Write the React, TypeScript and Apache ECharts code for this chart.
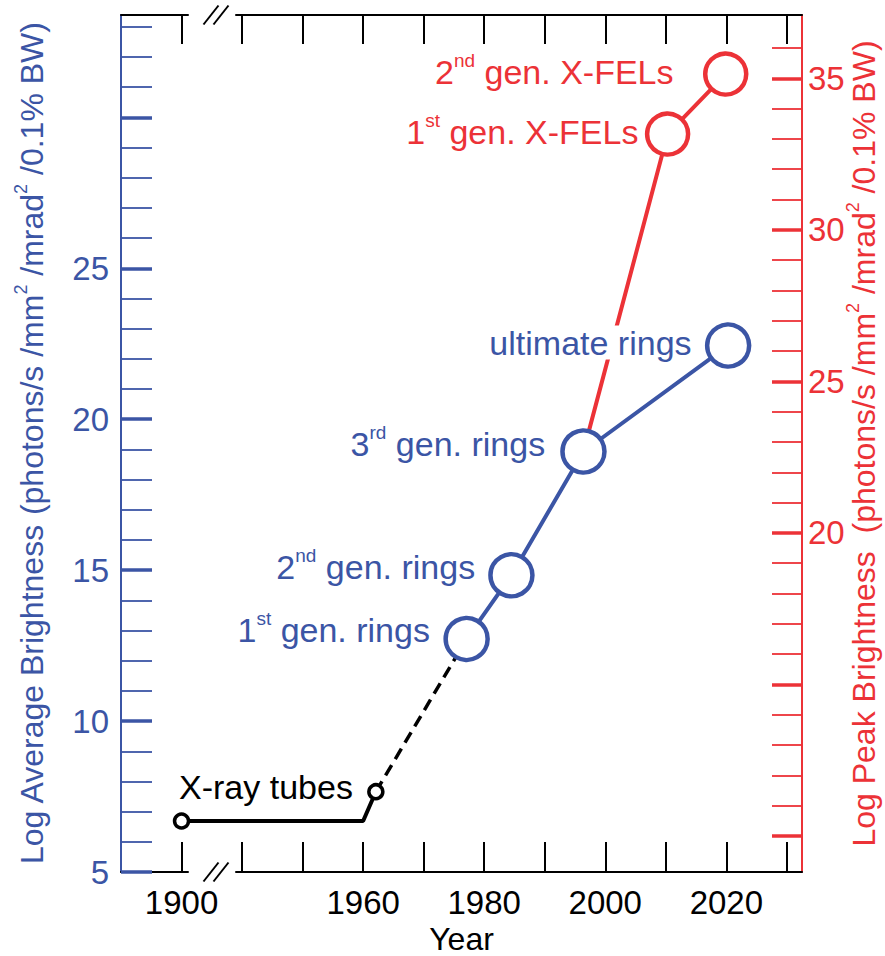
import React, { useEffect, useRef } from 'react';
import * as echarts from 'echarts';

// ---------- data ----------
const ringYears = [1977.1, 1984.5, 1996.4, 2020.3];
const ringAvgBrightness = [12.72, 14.83, 18.93, 22.44];
const ringLabels = ['1st gen. rings', '2nd gen. rings', '3rd gen. rings', 'ultimate rings'];

const felYears = [1996.4, 2010.3, 2019.9];
const felPeakBrightness = [22.69, 33.16, 35.14];
const felLabels = ['', '1st gen. X-FELs', '2nd gen. X-FELs'];

const tubeYears = [1900, 1960, 1962.1];
const tubeAvgBrightness = [6.69, 6.69, 7.66];
const tubeLabel = 'X-ray tubes';

const xTickValues = [1900, 1940, 1950, 1960, 1970, 1980, 1990, 2000, 2010, 2020, 2030];
const xLabelValues = [1900, 1960, 1980, 2000, 2020];
const leftMajorTicks = [5, 10, 15, 20, 25, 30];
const leftMinorTicks = [6, 7, 8, 9, 11, 12, 13, 14, 16, 17, 18, 19, 21, 22, 23, 24, 26, 27, 28, 29, 31, 32, 33];
const leftLabelValues = [5, 10, 15, 20, 25];
const rightMajorTicks = [10, 15, 20, 25, 30, 35];
const rightMinorTicks = [11, 12, 13, 14, 16, 17, 18, 19, 21, 22, 23, 24, 26, 27, 28, 29, 31, 32, 33, 34, 36];
const rightLabelValues = [20, 25, 30, 35];

// ---------- layout / style ----------
const ringLabelOffsets = [[-36.7, -9], [-36.3, -8], [-38.3, -7], [-36.6, -3]];
const felLabelOffsets = [[0, 0], [-29.2, -2.5], [-52.2, -1.7]];

const BLUE = '#3b55a5';
const RED = '#ec3237';
const BLACK = '#000000';
const FONT = '"Liberation Sans", Arial, Helvetica, sans-serif';
const NBSP = '\u00a0';

const rich = (color: string, size: number, supSize: number, supDrop: number) => ({
  n: { fontSize: size, lineHeight: 56, color, fontFamily: FONT },
  w: { fontSize: size, lineHeight: 44, color, fontFamily: FONT, backgroundColor: '#ffffff' },
  s: {
    fontSize: supSize,
    lineHeight: supSize,
    verticalAlign: 'top',
    padding: [supDrop, 0, 0, 0],
    color,
    fontFamily: FONT,
  },
});

function richLabel(s: string): string {
  const m = s.match(/^(\d+)(st|nd|rd|th) (.*)$/);
  if (m) return `{n|${m[1]}}{s|${m[2]}}{n|${NBSP}${m[3]}}`;
  return `{w|${s}}`;
}

const titleTail = `{n|${NBSP}(photons/s /mm}{s|2}{n|${NBSP}/mrad}{s|2}{n|${NBSP}/0.1% BW)}`;
const leftTitle = `{n|Log Average Brightness}` + titleTail;
const rightTitle = `{n|Log Peak Brightness${NBSP}}` + titleTail;

const X_MIN = 1890;
const X_MAX = 2032.5;
const xBreaks = [{ start: 1901, end: 1939, gap: 8 }];

function breakMark(cy: number) {
  return [
    {
      type: 'polygon',
      z: 100,
      shape: { points: [[205, cy + 9], [219, cy - 9], [227, cy - 9], [213, cy + 9]] },
      style: { fill: '#ffffff' },
    },
    {
      type: 'line',
      z: 101,
      shape: { x1: 203.5, y1: cy + 9.5, x2: 218.5, y2: cy - 9.5 },
      style: { stroke: BLACK, lineWidth: 2 },
    },
    {
      type: 'line',
      z: 101,
      shape: { x1: 213.5, y1: cy + 9.5, x2: 228.5, y2: cy - 9.5 },
      style: { stroke: BLACK, lineWidth: 2 },
    },
  ];
}

export default function App() {
  const ref = useRef<HTMLDivElement>(null);

  useEffect(() => {
    if (!ref.current) return;
    const chart = echarts.init(ref.current, null, { renderer: 'svg' });

    const ringData = ringYears.map((x, i) => ({
      value: [x, ringAvgBrightness[i]],
      label: {
        show: true,
        position: 'inside',
        align: 'right',
        verticalAlign: 'middle',
        offset: ringLabelOffsets[i],
        formatter: richLabel(ringLabels[i]),
        rich: rich(BLUE, 34, 19, 7),
      },
    }));

    const felData = felYears.map((x, i) => ({
      value: [x, felPeakBrightness[i]],
      symbol: felLabels[i] ? 'circle' : 'none',
      label: felLabels[i]
        ? {
            show: true,
            position: 'inside',
            align: 'right',
            verticalAlign: 'middle',
            offset: felLabelOffsets[i],
            formatter: richLabel(felLabels[i]),
            rich: rich(RED, 34, 19, 7),
          }
        : { show: false },
    }));

    const tubeData = tubeYears.map((x, i) => ({
      value: [x, tubeAvgBrightness[i]],
      symbol: i === 1 ? 'none' : 'circle',
      label:
        i === 0
          ? {
              show: true,
              position: 'inside',
              align: 'left',
              verticalAlign: 'middle',
              offset: [-2.5, -34],
              formatter: tubeLabel,
              color: BLACK,
              fontSize: 34,
              fontFamily: FONT,
            }
          : { show: false },
    }));

    const connectorData = [
      [tubeYears[tubeYears.length - 1], tubeAvgBrightness[tubeAvgBrightness.length - 1]],
      [ringYears[0], ringAvgBrightness[0]],
    ];

    const xAxisBase = {
      type: 'value',
      min: X_MIN,
      max: X_MAX,
      breaks: xBreaks,
      breakArea: { show: false },
      splitLine: { show: false },
      nameMoveOverlap: false,
    };

    const option: any = {
      animation: false,
      backgroundColor: '#ffffff',
      textStyle: { fontFamily: FONT },
      grid: {
        left: 121,
        right: 83,
        top: 15,
        bottom: 84,
        containLabel: false,
        outerBoundsMode: 'none',
      },
      xAxis: [
        {
          ...xAxisBase,
          position: 'bottom',
          axisLine: { show: true, onZero: false, lineStyle: { color: BLACK, width: 2 } },
          axisTick: {
            show: true,
            inside: true,
            length: 30,
            customValues: xTickValues,
            lineStyle: { color: BLACK, width: 2 },
          },
          axisLabel: {
            show: true,
            color: BLACK,
            fontSize: 33,
            fontFamily: FONT,
            margin: 14,
            customValues: xLabelValues,
            formatter: (v: number) => String(v),
          },
          name: 'Year',
          nameLocation: 'middle',
          nameGap: 51,
          nameTextStyle: { color: BLACK, fontSize: 32, fontFamily: FONT },
        },
        {
          ...xAxisBase,
          position: 'top',
          axisLine: { show: true, onZero: false, lineStyle: { color: BLACK, width: 2 } },
          axisTick: {
            show: true,
            inside: true,
            length: 29,
            customValues: xTickValues,
            lineStyle: { color: BLACK, width: 2 },
          },
          axisLabel: { show: false },
        },
      ],
      yAxis: [
        {
          type: 'value',
          position: 'left',
          min: 5,
          max: 33.39,
          splitLine: { show: false },
          axisLine: { show: true, onZero: false, lineStyle: { color: BLUE, width: 2 } },
          axisTick: {
            show: true,
            inside: true,
            length: 31,
            customValues: leftMajorTicks,
            lineStyle: { color: BLUE, width: 3.5 },
          },
          axisLabel: {
            show: true,
            color: BLUE,
            fontSize: 33,
            fontFamily: FONT,
            margin: 12,
            customValues: leftLabelValues,
            formatter: (v: number) => String(v),
          },
          name: leftTitle,
          nameLocation: 'middle',
          nameRotate: 90,
          nameGap: 61,
          nameMoveOverlap: false,
          nameTextStyle: { color: BLUE, fontSize: 32, fontFamily: FONT, rich: rich(BLUE, 32, 18, 8) },
        },
        {
          type: 'value',
          position: 'left',
          min: 5,
          max: 33.39,
          splitLine: { show: false },
          axisLine: { show: false },
          axisTick: {
            show: true,
            inside: true,
            length: 31,
            customValues: leftMinorTicks,
            lineStyle: { color: BLUE, width: 1.8 },
          },
          axisLabel: { show: false },
        },
        {
          type: 'value',
          position: 'right',
          min: 8.81,
          max: 37.09,
          splitLine: { show: false },
          axisLine: { show: true, onZero: false, lineStyle: { color: RED, width: 2 } },
          axisTick: {
            show: true,
            inside: true,
            length: 30,
            customValues: rightMajorTicks,
            lineStyle: { color: RED, width: 3.5 },
          },
          axisLabel: {
            show: true,
            color: RED,
            fontSize: 33,
            fontFamily: FONT,
            margin: 6,
            customValues: rightLabelValues,
            formatter: (v: number) => String(v),
          },
          name: rightTitle,
          nameLocation: 'middle',
          nameRotate: 90,
          nameGap: 34,
          nameMoveOverlap: false,
          nameTextStyle: { color: RED, fontSize: 32, fontFamily: FONT, rich: rich(RED, 32, 18, 8) },
        },
        {
          type: 'value',
          position: 'right',
          min: 8.81,
          max: 37.09,
          splitLine: { show: false },
          axisLine: { show: false },
          axisTick: {
            show: true,
            inside: true,
            length: 30,
            customValues: rightMinorTicks,
            lineStyle: { color: RED, width: 1.8 },
          },
          axisLabel: { show: false },
        },
      ],
      series: [
        {
          name: 'X-FELs',
          type: 'line',
          xAxisIndex: 0,
          yAxisIndex: 2,
          z: 2,
          silent: true,
          data: felData,
          symbol: 'circle',
          symbolSize: 41,
          itemStyle: { color: '#ffffff', borderColor: RED, borderWidth: 4.5 },
          lineStyle: { color: RED, width: 4 },
        },
        {
          name: 'X-ray tubes',
          type: 'line',
          xAxisIndex: 0,
          yAxisIndex: 0,
          z: 2,
          silent: true,
          data: tubeData,
          symbol: 'circle',
          symbolSize: 14,
          itemStyle: { color: '#ffffff', borderColor: BLACK, borderWidth: 3.5 },
          lineStyle: { color: BLACK, width: 4 },
        },
        {
          name: 'connector',
          type: 'line',
          xAxisIndex: 0,
          yAxisIndex: 0,
          z: 1,
          silent: true,
          data: connectorData,
          symbol: 'none',
          lineStyle: { color: BLACK, width: 3.5, type: [12, 7] },
        },
        {
          name: 'Rings',
          type: 'line',
          xAxisIndex: 0,
          yAxisIndex: 0,
          z: 3,
          silent: true,
          data: ringData,
          symbol: 'circle',
          symbolSize: 42,
          itemStyle: { color: '#ffffff', borderColor: BLUE, borderWidth: 4.5 },
          lineStyle: { color: BLUE, width: 4 },
        },
      ],
      graphic: [...breakMark(872), ...breakMark(15)],
    };

    chart.setOption(option);
    return () => chart.dispose();
  }, []);

  return (
    <div
      ref={ref}
      style={{ position: 'absolute', left: 0, top: 0, width: 885, height: 956, background: '#fff' }}
    />
  );
}
